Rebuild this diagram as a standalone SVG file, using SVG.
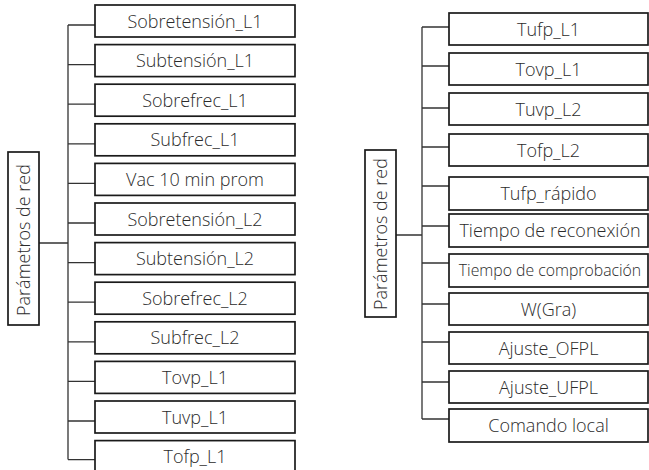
<svg xmlns="http://www.w3.org/2000/svg" width="649" height="470" viewBox="0 0 649 470">
<style>
.box{fill:#fff;stroke:#1a1a1a;stroke-width:1.7}
.t{font-family:"Open Sans","Liberation Sans",sans-serif;font-weight:300;font-size:18px;fill:#2b2b2b;text-anchor:middle}
.s{font-size:15.8px}
.c{fill:none;stroke:#333;stroke-width:1.3}
</style>
<rect width="649" height="470" fill="#fff"/>
<g id="connectors">
<path class="c" d="M39,243H68M68,25V459.6"/>
<path class="c" d="M68,25H95M68,64.6H95M68,104.2H95M68,143.8H95M68,183.4H95M68,223H95M68,262.6H95M68,302.2H95M68,341.8H95M68,381.4H95M68,421H95M68,459.6H95"/>
<path class="c" d="M396,235H422M422,27V419"/>
<path class="c" d="M422,27H449M422,66H449M422,108H449M422,147H449M422,186H449M422,226H449M422,263H449M422,304H449M422,342H449M422,382H449M422,419H449"/>
</g>
<g id="root-left"><rect class="box" x="8" y="152" width="31" height="173"/><text class="t" transform="translate(30,240) rotate(-90)">Parámetros de red</text></g>
<g id="root-right"><rect class="box" x="365" y="150" width="31" height="167"/><text class="t" transform="translate(387,234) rotate(-90)">Parámetros de red</text></g>
<g id="l1"><rect class="box" x="95" y="5" width="200" height="32"/><text class="t" x="195" y="27.5">Sobretensión_L1</text></g>
<g id="l2"><rect class="box" x="95" y="44.6" width="200" height="32"/><text class="t" x="195" y="67.1">Subtensión_L1</text></g>
<g id="l3"><rect class="box" x="95" y="84.2" width="200" height="32"/><text class="t" x="195" y="106.7">Sobrefrec_L1</text></g>
<g id="l4"><rect class="box" x="95" y="123.8" width="200" height="32"/><text class="t" x="195" y="146.3">Subfrec_L1</text></g>
<g id="l5"><rect class="box" x="95" y="163.4" width="200" height="32"/><text class="t" x="195" y="185.9">Vac 10 min prom</text></g>
<g id="l6"><rect class="box" x="95" y="203" width="200" height="32"/><text class="t" x="195" y="225.5">Sobretensión_L2</text></g>
<g id="l7"><rect class="box" x="95" y="242.6" width="200" height="32"/><text class="t" x="195" y="265.1">Subtensión_L2</text></g>
<g id="l8"><rect class="box" x="95" y="282.2" width="200" height="32"/><text class="t" x="195" y="304.7">Sobrefrec_L2</text></g>
<g id="l9"><rect class="box" x="95" y="321.8" width="200" height="32"/><text class="t" x="195" y="344.3">Subfrec_L2</text></g>
<g id="l10"><rect class="box" x="95" y="361.4" width="200" height="32"/><text class="t" x="195" y="383.9">Tovp_L1</text></g>
<g id="l11"><rect class="box" x="95" y="401" width="200" height="32"/><text class="t" x="195" y="423.5">Tuvp_L1</text></g>
<g id="l12"><rect class="box" x="95" y="440.6" width="200" height="32"/><text class="t" x="195" y="463.1">Tofp_L1</text></g>
<g id="r1"><rect class="box" x="449" y="13" width="199" height="32"/><text class="t" x="548.5" y="35.5">Tufp_L1</text></g>
<g id="r2"><rect class="box" x="449" y="53" width="199" height="32"/><text class="t" x="548.5" y="75.5">Tovp_L1</text></g>
<g id="r3"><rect class="box" x="449" y="93" width="199" height="32"/><text class="t" x="548.5" y="115.5">Tuvp_L2</text></g>
<g id="r4"><rect class="box" x="449" y="134" width="199" height="32"/><text class="t" x="548.5" y="156.5">Tofp_L2</text></g>
<g id="r5"><rect class="box" x="449" y="177" width="199" height="33"/><text class="t" x="548.5" y="200">Tufp_rápido</text></g>
<g id="r6"><rect class="box" x="449" y="214" width="199" height="33"/><text class="t" x="550" y="237">Tiempo de reconexión</text></g>
<g id="r7"><rect class="box" x="449" y="254" width="199" height="33"/><text class="t s" x="550" y="276">Tiempo de comprobación</text></g>
<g id="r8"><rect class="box" x="449" y="293" width="199" height="32"/><text class="t" x="548.5" y="315.5">W(Gra)</text></g>
<g id="r9"><rect class="box" x="449" y="332" width="199" height="32"/><text class="t" x="548.5" y="354.5">Ajuste_OFPL</text></g>
<g id="r10"><rect class="box" x="449" y="371" width="199" height="32"/><text class="t" x="548.5" y="393.5">Ajuste_UFPL</text></g>
<g id="r11"><rect class="box" x="449" y="409" width="199" height="33"/><text class="t" x="548.5" y="432">Comando local</text></g>
</svg>
